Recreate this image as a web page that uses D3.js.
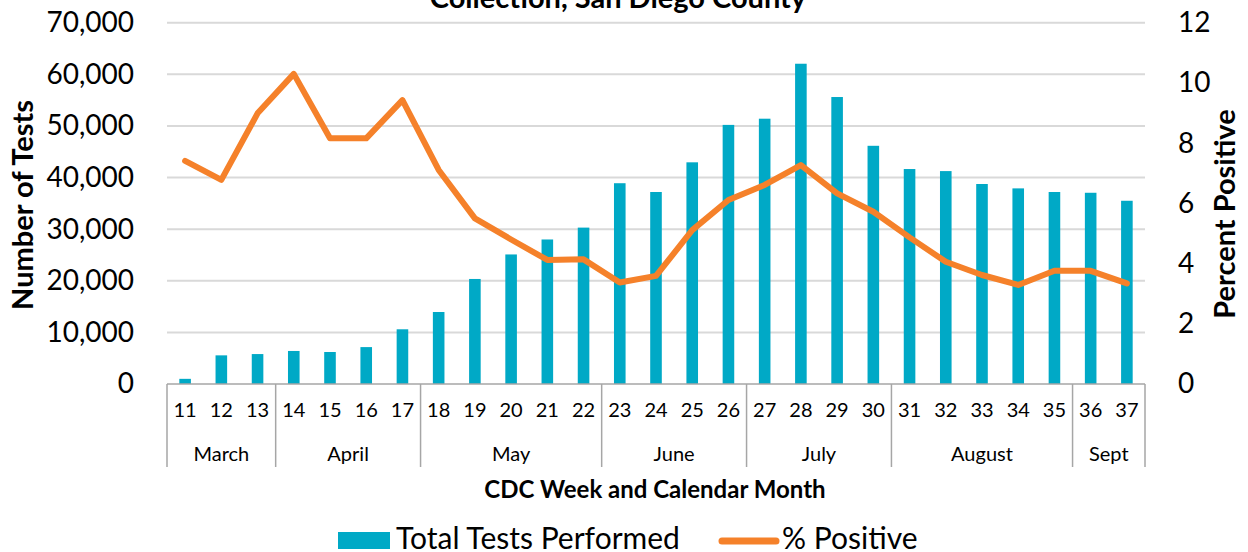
<!DOCTYPE html>
<html>
<head>
<meta charset="utf-8">
<script src="https://cdn.jsdelivr.net/npm/d3@7"></script>
<style>
  body { margin: 0; background: #fff; }
  svg { display: block; font-family: Lato, "Open Sans", sans-serif; }
</style>
</head>
<body>
<svg id="chart" width="1248" height="552"></svg>
<script>
const weeks = ["11","12","13","14","15","16","17","18","19","20","21","22","23","24",
  "25","26","27","28","29","30","31","32","33","34","35","36","37"];
const totalTests = [1000, 5550, 5800, 6400, 6200, 7150, 10600, 13950, 20350, 25100, 28000, 30300,
  38900, 37200, 42950, 50200, 51400, 62050, 55600, 46150, 41650, 41250, 38750, 37900, 37200, 37050, 35500];
const pctPositive = [7.41, 6.78, 8.99, 10.3, 8.16, 8.16, 9.43, 7.11, 5.5, 4.8, 4.12, 4.14,
  3.37, 3.59, 5.11, 6.11, 6.61, 7.27, 6.33, 5.72, 4.87, 4.06, 3.62, 3.29, 3.76, 3.76, 3.34];
const months = [
  { name: "March", first: "11", last: "13" },
  { name: "April", first: "14", last: "17" },
  { name: "May", first: "18", last: "22" },
  { name: "June", first: "23", last: "26" },
  { name: "July", first: "27", last: "30" },
  { name: "August", first: "31", last: "35" },
  { name: "Sept", first: "36", last: "37" }
];
const leftTicks = [0, 10000, 20000, 30000, 40000, 50000, 60000, 70000];
const rightTicks = [0, 2, 4, 6, 8, 10, 12];

const svg = d3.select("#chart");
const plotLeft = 167, plotRight = 1145, plotTop = 22.7, plotBottom = 384;

const x = d3.scaleBand().domain(weeks).range([plotLeft, plotRight])
  .paddingInner(0.68).paddingOuter(0.34);
const y = d3.scaleLinear().domain([0, 70000]).range([plotBottom, plotTop]);
const y2 = d3.scaleLinear().domain([0, 12]).range([plotBottom, plotTop]);
const edge = w => x(w) - (x.step() - x.bandwidth()) / 2;

// gridlines
svg.append("g")
  .selectAll("line")
  .data(leftTicks.slice(1))
  .enter().append("line")
  .attr("x1", plotLeft).attr("x2", plotRight)
  .attr("y1", d => y(d)).attr("y2", d => y(d))
  .attr("stroke", "#d9d9d9").attr("stroke-width", 2);

// left axis labels
const yAxis = svg.append("g")
  .attr("transform", `translate(${plotLeft - 30},0)`)
  .call(d3.axisLeft(y).tickValues(leftTicks).tickSize(0).tickFormat(d3.format(",")));
yAxis.select(".domain").remove();
yAxis.selectAll("text").attr("font-size", 28).attr("fill", "#000").attr("font-family", "Lato");

// right axis labels
const yAxis2 = svg.append("g")
  .attr("transform", `translate(${plotRight + 30},0)`)
  .call(d3.axisRight(y2).tickValues(rightTicks).tickSize(0));
yAxis2.select(".domain").remove();
yAxis2.selectAll("text").attr("font-size", 28).attr("fill", "#000").attr("font-family", "Lato");

// bars
svg.append("g")
  .selectAll("rect")
  .data(weeks)
  .enter().append("rect")
  .attr("x", d => x(d))
  .attr("width", x.bandwidth())
  .attr("y", (d, i) => y(totalTests[i]))
  .attr("height", (d, i) => plotBottom - y(totalTests[i]))
  .attr("fill", "#00a9c6");

// % positive line
const line = d3.line()
  .x(d => x(d.week) + x.bandwidth() / 2)
  .y(d => y2(d.pct));
svg.append("path")
  .datum(weeks.map((w, i) => ({ week: w, pct: pctPositive[i] })))
  .attr("d", line)
  .attr("fill", "none")
  .attr("stroke", "#f5812a")
  .attr("stroke-width", 6)
  .attr("stroke-linejoin", "round")
  .attr("stroke-linecap", "round");

// category axis
const xAxis = svg.append("g")
  .attr("transform", `translate(0,${plotBottom})`)
  .call(d3.axisBottom(x).tickSize(0).tickPadding(19));
xAxis.select(".domain").remove();
xAxis.selectAll("text").attr("font-size", 20).attr("fill", "#000").attr("font-family", "Lato");

svg.append("line")
  .attr("x1", plotLeft).attr("x2", plotRight)
  .attr("y1", plotBottom).attr("y2", plotBottom)
  .attr("stroke", "#a6a6a6").attr("stroke-width", 1.5);

const dividers = months.map(m => edge(m.first)).concat([plotRight]);
svg.append("g")
  .selectAll("line")
  .data(dividers)
  .enter().append("line")
  .attr("x1", d => d).attr("x2", d => d)
  .attr("y1", plotBottom).attr("y2", 467)
  .attr("stroke", "#a6a6a6").attr("stroke-width", 1.5);

svg.append("g")
  .selectAll("text")
  .data(months)
  .enter().append("text")
  .attr("x", d => (edge(d.first) + edge(d.last) + x.step()) / 2)
  .attr("y", 461)
  .attr("text-anchor", "middle")
  .attr("font-size", 20)
  .text(d => d.name);

// titles
svg.append("text")
  .attr("x", 618).attr("y", 8)
  .attr("text-anchor", "middle")
  .attr("font-size", 29).attr("font-weight", "bold")
  .text("Collection, San Diego County");

svg.append("text")
  .attr("x", 655).attr("y", 498)
  .attr("text-anchor", "middle")
  .attr("font-size", 24).attr("font-weight", "bold")
  .text("CDC Week and Calendar Month");

svg.append("text")
  .attr("transform", "translate(33,205) rotate(-90)")
  .attr("text-anchor", "middle")
  .attr("font-size", 29).attr("font-weight", "bold")
  .text("Number of Tests");

svg.append("text")
  .attr("transform", "translate(1235,214) rotate(-90)")
  .attr("text-anchor", "middle")
  .attr("font-size", 29).attr("font-weight", "bold")
  .text("Percent Positive");

// legend
const legend = svg.append("g");
legend.append("rect")
  .attr("x", 338).attr("y", 532).attr("width", 52).attr("height", 17)
  .attr("fill", "#00a9c6");
legend.append("text")
  .attr("x", 396).attr("y", 549)
  .attr("font-size", 30)
  .text("Total Tests Performed");
legend.append("line")
  .attr("x1", 722).attr("x2", 776).attr("y1", 541).attr("y2", 541)
  .attr("stroke", "#f5812a").attr("stroke-width", 7).attr("stroke-linecap", "round");
legend.append("text")
  .attr("x", 782).attr("y", 549)
  .attr("font-size", 30)
  .text("% Positive");
</script>
</body>
</html>
